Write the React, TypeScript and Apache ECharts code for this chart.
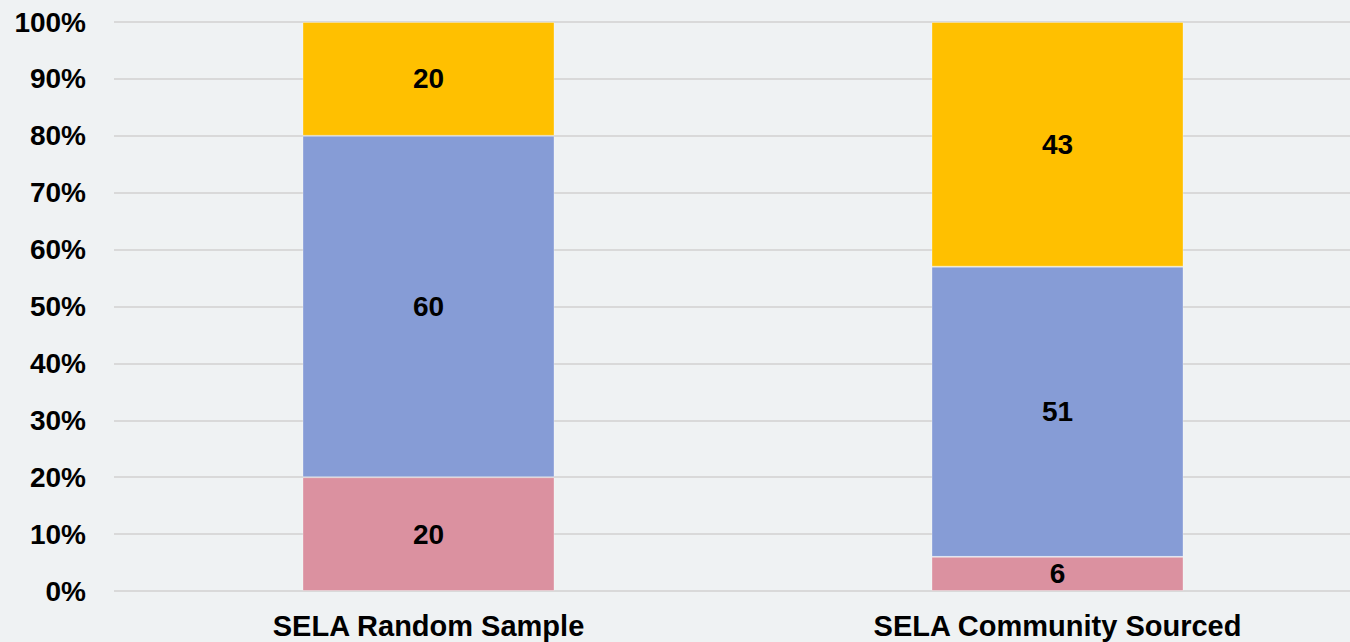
import React, { useEffect, useRef } from "react";
import * as echarts from "echarts";

const categories = ["SELA Random Sample", "SELA Community Sourced"];
const bottomValues = [20, 6];
const middleValues = [60, 51];
const topValues = [20, 43];
const seriesColors = ["#DB91A0", "#869CD6", "#FFC000"];

export default function App() {
  const ref = useRef<HTMLDivElement>(null);
  useEffect(() => {
    document.body.style.margin = "0";
    const chart = echarts.init(ref.current!, null, { renderer: "svg" });
    const font = "'Liberation Sans', Arial, sans-serif";
    const mk = (name: string, data: number[], color: string) => ({
      name,
      type: "bar",
      stack: "total",
      data,
      barWidth: 252,
      itemStyle: { color, borderColor: "rgba(255,255,255,0.3)", borderWidth: 1 },
      label: {
        show: true,
        position: "inside",
        color: "#000",
        fontFamily: font,
        fontWeight: "bold",
        fontSize: 28,
      },
    });
    chart.setOption({
      animation: false,
      backgroundColor: "#EFF2F3",
      grid: { left: 114, top: 22, width: 1258, height: 569, containLabel: false },
      xAxis: {
        type: "category",
        data: categories,
        axisLine: { show: false },
        axisTick: { show: false },
        axisLabel: {
          color: "#000",
          fontFamily: font,
          fontWeight: "bold",
          fontSize: 29,
          margin: 20,
        },
      },
      yAxis: {
        type: "value",
        min: 0,
        max: 100,
        interval: 10,
        axisLine: { show: false },
        axisTick: { show: false },
        splitLine: { lineStyle: { color: "#D9D9D9", width: 2 } },
        axisLabel: {
          formatter: "{value}%",
          color: "#000",
          fontFamily: font,
          fontWeight: "bold",
          fontSize: 28,
          margin: 28,
        },
      },
      series: [
        mk("Bottom", bottomValues, seriesColors[0]),
        mk("Middle", middleValues, seriesColors[1]),
        mk("Top", topValues, seriesColors[2]),
      ],
    });
    return () => chart.dispose();
  }, []);
  return (
    <div style={{ width: 1350, height: 642, overflow: "hidden", background: "#EFF2F3" }}>
      <div ref={ref} style={{ width: 1380, height: 642 }} />
    </div>
  );
}
